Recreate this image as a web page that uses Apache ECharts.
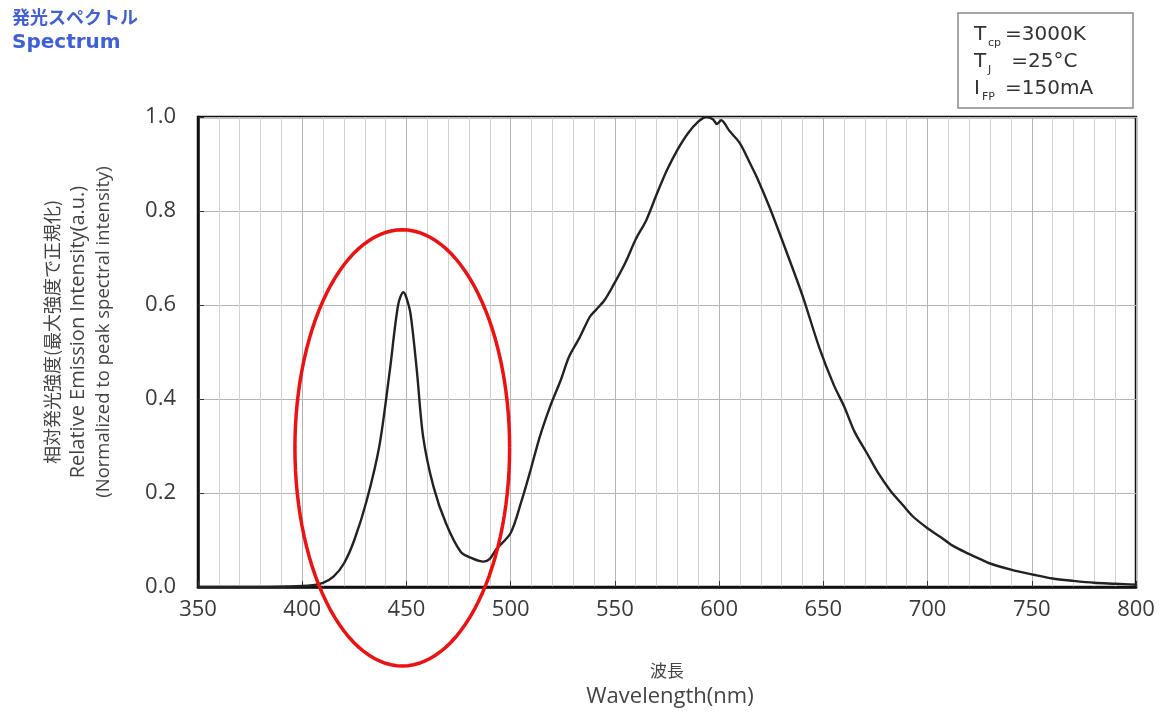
<!DOCTYPE html>
<html>
<head>
<meta charset="utf-8">
<script src="https://cdn.jsdelivr.net/npm/echarts@6/dist/echarts.min.js"></script>
<style>
html,body{margin:0;padding:0;background:#fff;}
#c{width:1160px;height:713px;}
</style>
</head>
<body>
<div id="c"></div>
<script>
// ---- data ----
const wavelengths = [350,380,400,405,410,415,420,425,431,437,442,446,448.5,450,452,455,458,463,469,476,481,487,490,493,500,505,509,514,519,524,528,533,538,541,545,549,555,560,565,570,575,580,585,590,594,597,599,601,605,610,615,618,624,632,640,648,655,660,665,671,676,682,688,693,700,706,712,719,725,730,740,751,760,770,780,790,800];
const intensity = [0,0,0.002,0.004,0.009,0.022,0.05,0.1,0.185,0.30,0.46,0.60,0.627,0.615,0.58,0.46,0.32,0.213,0.135,0.075,0.062,0.054,0.06,0.08,0.115,0.18,0.24,0.32,0.385,0.44,0.49,0.53,0.575,0.59,0.61,0.64,0.69,0.74,0.78,0.835,0.887,0.93,0.965,0.99,1.0,0.995,0.985,0.993,0.97,0.944,0.9,0.873,0.81,0.717,0.62,0.51,0.43,0.384,0.33,0.284,0.245,0.206,0.175,0.15,0.125,0.107,0.088,0.072,0.06,0.05,0.037,0.026,0.018,0.013,0.009,0.007,0.005];
const xTickLabels = ['350','400','450','500','550','600','650','700','750','800'];
const yTickLabels = ['0.0','0.2','0.4','0.6','0.8','1.0'];
const titleLines = ['発光スペクトル','Spectrum'];
const yNameLines = ['相対発光強度(最大強度で正規化)','Relative Emission Intensity(a.u.)','(Normalized to peak spectral intensity)'];
const xNameLines = ['波長','Wavelength(nm)'];
const conditions = [['T','cp','=3000K'],['T','J',' =25°C'],['I','FP','=150mA']];
// highlight annotation (data space): center, half-widths
const highlight = {cx:448, cy:0.296, rx:51.5, ry:0.464};

const series = wavelengths.map((w,i)=>[w,intensity[i]]);
const FONT = '"Open Sans"';
const CJK = '"Noto Sans CJK JP"';

const chart = echarts.init(document.getElementById('c'));
const option = {
  backgroundColor:'#fff',
  animation:false,
  textStyle:{fontFamily:'Open Sans'},
  grid:{left:198,right:24,top:117,bottom:126,show:true,borderColor:'#111',borderWidth:2.5,backgroundColor:'transparent'},
  xAxis:{
    type:'value',min:350,max:800,interval:50,
    axisLine:{show:true,lineStyle:{color:'#111',width:2.5}},
    axisTick:{show:true,inside:true,length:6,lineStyle:{color:'#333'}},
    minorTick:{show:false,splitNumber:5},
    splitLine:{show:true,lineStyle:{color:'#b4b4b4',width:1}},
    minorSplitLine:{show:true,lineStyle:{color:'#d2d2d2',width:1}},
    axisLabel:{color:'#3a3a3a',fontSize:22,margin:12,fontFamily:'Open Sans',
      formatter:(v)=>{const i=Math.round((v-350)/50);return xTickLabels[i]||'';}}
  },
  yAxis:{
    type:'value',min:0,max:1,interval:0.2,
    axisLine:{show:true,lineStyle:{color:'#111',width:2.5}},
    axisTick:{show:true,inside:true,length:6,lineStyle:{color:'#333'}},
    splitLine:{show:true,lineStyle:{color:'#b4b4b4',width:1}},
    axisLabel:{color:'#3a3a3a',fontSize:22,margin:22,fontFamily:'Open Sans',
      formatter:(v)=>{const i=Math.round(v/0.2);return yTickLabels[i]||'';}}
  },
  series:[{
    type:'line',data:series,smooth:0.3,showSymbol:false,
    lineStyle:{color:'#222',width:2.4},z:5
  }],
  graphic:[]
};
chart.setOption(option);

// annotations
const g = [];
g.push({type:'text',left:12,top:8,style:{text:titleLines[0],fill:'#4060d8',font:'bold 18px '+CJK}});
g.push({type:'text',left:12,top:33,style:{text:titleLines[1],fill:'#4060d8',font:'bold 20px "DejaVu Sans"'}});
// condition box
g.push({type:'rect',shape:{x:958,y:13,width:175,height:95},style:{fill:'#fff',stroke:'#888',lineWidth:1.5}});
conditions.forEach((c,i)=>{
  const y = 25 + i*27;
  const subX = c[0]==='I' ? 982 : 988;
  g.push({type:'text',x:974,y:y,style:{text:c[0],fill:'#333',font:'20px "DejaVu Sans"'}});
  g.push({type:'text',x:subX,y:y+13,style:{text:c[1],fill:'#333',font:'11px "DejaVu Sans"'}});
  g.push({type:'text',x:1005,y:y,style:{text:c[2],fill:'#333',font:'20px "DejaVu Sans"'}});
});
// y axis name (rotated)
const yNameFonts = ['18px '+CJK,'20px '+FONT,'18.5px '+FONT];
yNameLines.forEach((t,i)=>{
  g.push({type:'text',x:52+i*26,y:332,rotation:Math.PI/2,
    style:{text:t,fill:'#444',font:yNameFonts[i],align:'center',verticalAlign:'middle'}});
});
// x axis name
g.push({type:'text',x:667,y:671,style:{text:xNameLines[0],fill:'#444',font:'17px '+CJK,align:'center',verticalAlign:'middle'}});
g.push({type:'text',x:670,y:697,style:{text:xNameLines[1],fill:'#444',font:'22px '+FONT,align:'center',verticalAlign:'middle'}});
// red ellipse highlight
const pts = [];
for(let k=0;k<=120;k++){
  const a = k/120*Math.PI*2;
  const p = chart.convertToPixel({gridIndex:0},[highlight.cx+highlight.rx*Math.cos(a),highlight.cy+highlight.ry*Math.sin(a)]);
  pts.push(p);
}
g.push({type:'polyline',shape:{points:pts,smooth:0},style:{stroke:'#ee1111',lineWidth:3.5,fill:null},z:100});
chart.setOption({graphic:g});
</script>
</body>
</html>
